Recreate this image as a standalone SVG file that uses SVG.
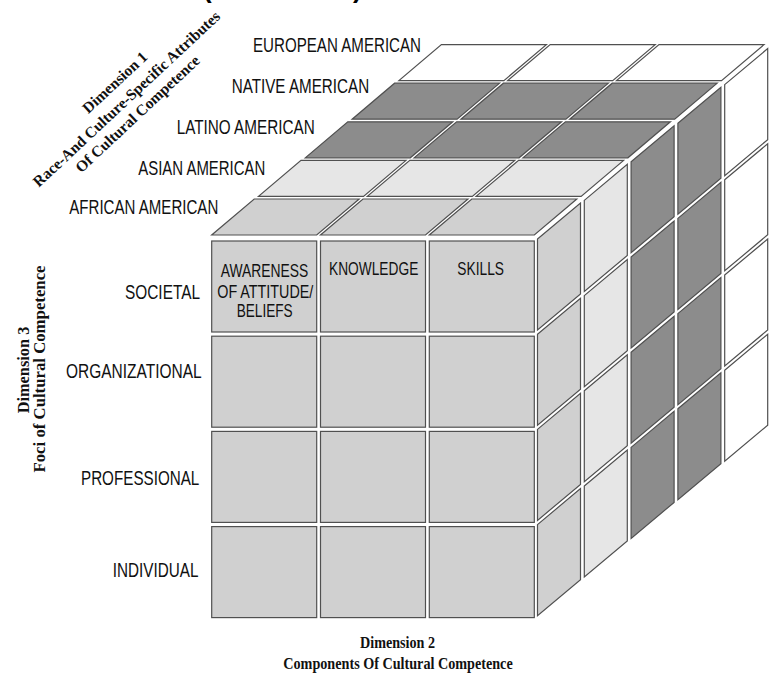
<svg xmlns="http://www.w3.org/2000/svg" width="773" height="673" viewBox="0 0 773 673">
<style>
.c{stroke:#505050;stroke-width:1.2;stroke-linejoin:miter}
.g1{fill:#d0d0d0}.g2{fill:#e6e6e6}.g3{fill:#8c8c8c}.g5{fill:#ffffff}
.lb{font-family:"Liberation Sans",Arial,sans-serif;font-size:20px;fill:#111}
.cl{font-family:"Liberation Sans",Arial,sans-serif;font-size:19px;fill:#111}
.ti{font-family:"Liberation Serif","Times New Roman",serif;font-weight:bold;fill:#111}
.pa{font-family:"Liberation Sans",Arial,sans-serif;font-weight:bold;font-size:26px;fill:#000}
</style>
<rect width="773" height="673" fill="#fff"/>
<text class="pa" x="203" y="-2.5">(</text>
<text class="pa" x="353" y="-2.5">)</text>

<g id="dimension1-title" class="ti" font-size="15.5" text-anchor="middle">
<text transform="translate(118.4,86.2) rotate(-43)">Dimension 1</text>
<text transform="translate(130,102.7) rotate(-43)">Race-And Culture-Specific Attributes</text>
<text transform="translate(141,117.7) rotate(-43)">Of Cultural Competence</text>
</g>
<g id="dimension3-title" class="ti" font-size="16" text-anchor="middle">
<text transform="translate(28.5,370) rotate(-90)" textLength="86.7" lengthAdjust="spacingAndGlyphs">Dimension 3</text>
<text transform="translate(45,369) rotate(-90)" textLength="207" lengthAdjust="spacingAndGlyphs">Foci of Cultural Competence</text>
</g>
<g id="dimension2-title" class="ti" font-size="16">
<text x="360" y="648.3" textLength="75" lengthAdjust="spacingAndGlyphs">Dimension 2</text>
<text x="283.3" y="668.8" textLength="229.4" lengthAdjust="spacingAndGlyphs">Components Of Cultural Competence</text>
</g>

<g id="race-labels" class="lb">
<text x="253" y="52" textLength="168" lengthAdjust="spacingAndGlyphs">EUROPEAN AMERICAN</text>
<text x="231.7" y="92.7" textLength="137.5" lengthAdjust="spacingAndGlyphs">NATIVE AMERICAN</text>
<text x="176.7" y="133.5" textLength="138" lengthAdjust="spacingAndGlyphs">LATINO AMERICAN</text>
<text x="138.3" y="174.5" textLength="127" lengthAdjust="spacingAndGlyphs">ASIAN AMERICAN</text>
<text x="69.3" y="214.3" textLength="149" lengthAdjust="spacingAndGlyphs">AFRICAN AMERICAN</text>
</g>
<g id="foci-labels" class="lb">
<text x="125" y="299" textLength="75" lengthAdjust="spacingAndGlyphs">SOCIETAL</text>
<text x="66" y="378" textLength="135.7" lengthAdjust="spacingAndGlyphs">ORGANIZATIONAL</text>
<text x="81" y="485" textLength="118.3" lengthAdjust="spacingAndGlyphs">PROFESSIONAL</text>
<text x="112.7" y="576.7" textLength="85.7" lengthAdjust="spacingAndGlyphs">INDIVIDUAL</text>
</g>

<g id="side-faces" class="c">
<g id="side-european" class="g5">
<path d="M724.7 84.6l43 -36v91l-43 36z"/><path d="M724.7 179.8l43 -36v91l-43 36z"/><path d="M724.7 275l43 -36v91l-43 36z"/><path d="M724.7 370.2l43 -36v91l-43 36z"/>
</g>
<g id="side-native" class="g3">
<path d="M677.9 123.2l43 -36v91l-43 36z"/><path d="M677.9 218.4l43 -36v91l-43 36z"/><path d="M677.9 313.6l43 -36v91l-43 36z"/><path d="M677.9 408.8l43 -36v91l-43 36z"/>
</g>
<g id="side-latino" class="g3">
<path d="M631.1 161.8l43 -36v91l-43 36z"/><path d="M631.1 257l43 -36v91l-43 36z"/><path d="M631.1 352.2l43 -36v91l-43 36z"/><path d="M631.1 447.4l43 -36v91l-43 36z"/>
</g>
<g id="side-asian" class="g2">
<path d="M584.3 200.4l43 -36v91l-43 36z"/><path d="M584.3 295.6l43 -36v91l-43 36z"/><path d="M584.3 390.8l43 -36v91l-43 36z"/><path d="M584.3 486l43 -36v91l-43 36z"/>
</g>
<g id="side-african" class="g1">
<path d="M537.5 239l43 -36v91l-43 36z"/><path d="M537.5 334.2l43 -36v91l-43 36z"/><path d="M537.5 429.4l43 -36v91l-43 36z"/><path d="M537.5 524.6l43 -36v91l-43 36z"/>
</g>
</g>

<g id="top-faces" class="c">
<g id="top-european" class="g5">
<path d="M398.9 80.6h105l42.5 -36h-105z"/><path d="M507.7 80.6h105l42.5 -36h-105z"/><path d="M616.5 80.6h105l42.5 -36h-105z"/>
</g>
<g id="top-native" class="g3">
<path d="M352.1 119.2h105l42.5 -36h-105z"/><path d="M460.9 119.2h105l42.5 -36h-105z"/><path d="M569.7 119.2h105l42.5 -36h-105z"/>
</g>
<g id="top-latino" class="g3">
<path d="M305.3 157.8h105l42.5 -36h-105z"/><path d="M414.1 157.8h105l42.5 -36h-105z"/><path d="M522.9 157.8h105l42.5 -36h-105z"/>
</g>
<g id="top-asian" class="g2">
<path d="M258.5 196.4h105l42.5 -36h-105z"/><path d="M367.3 196.4h105l42.5 -36h-105z"/><path d="M476.1 196.4h105l42.5 -36h-105z"/>
</g>
<g id="top-african" class="g1">
<path d="M211.7 235h105l42.5 -36h-105z"/><path d="M320.5 235h105l42.5 -36h-105z"/><path d="M429.3 235h105l42.5 -36h-105z"/>
</g>
</g>

<g id="front-faces" class="c g1">
<g id="societal-awareness"><rect x="211.7" y="241" width="105" height="91"/></g>
<g id="societal-knowledge"><rect x="320.5" y="241" width="105" height="91"/></g>
<g id="societal-skills"><rect x="429.3" y="241" width="105" height="91"/></g>
<g id="organizational-awareness"><rect x="211.7" y="336.2" width="105" height="91"/></g>
<g id="organizational-knowledge"><rect x="320.5" y="336.2" width="105" height="91"/></g>
<g id="organizational-skills"><rect x="429.3" y="336.2" width="105" height="91"/></g>
<g id="professional-awareness"><rect x="211.7" y="431.4" width="105" height="91"/></g>
<g id="professional-knowledge"><rect x="320.5" y="431.4" width="105" height="91"/></g>
<g id="professional-skills"><rect x="429.3" y="431.4" width="105" height="91"/></g>
<g id="individual-awareness"><rect x="211.7" y="526.6" width="105" height="91"/></g>
<g id="individual-knowledge"><rect x="320.5" y="526.6" width="105" height="91"/></g>
<g id="individual-skills"><rect x="429.3" y="526.6" width="105" height="91"/></g>
</g>

<g id="component-labels" class="cl">
<text x="220.7" y="276.5" textLength="87.6" lengthAdjust="spacingAndGlyphs">AWARENESS</text>
<text x="217.3" y="297.5" textLength="96" lengthAdjust="spacingAndGlyphs">OF ATTITUDE/</text>
<text x="236.7" y="316.7" textLength="56" lengthAdjust="spacingAndGlyphs">BELIEFS</text>
<text x="329" y="275" textLength="89.3" lengthAdjust="spacingAndGlyphs">KNOWLEDGE</text>
<text x="457.3" y="275" textLength="46.7" lengthAdjust="spacingAndGlyphs">SKILLS</text>
</g>
</svg>
